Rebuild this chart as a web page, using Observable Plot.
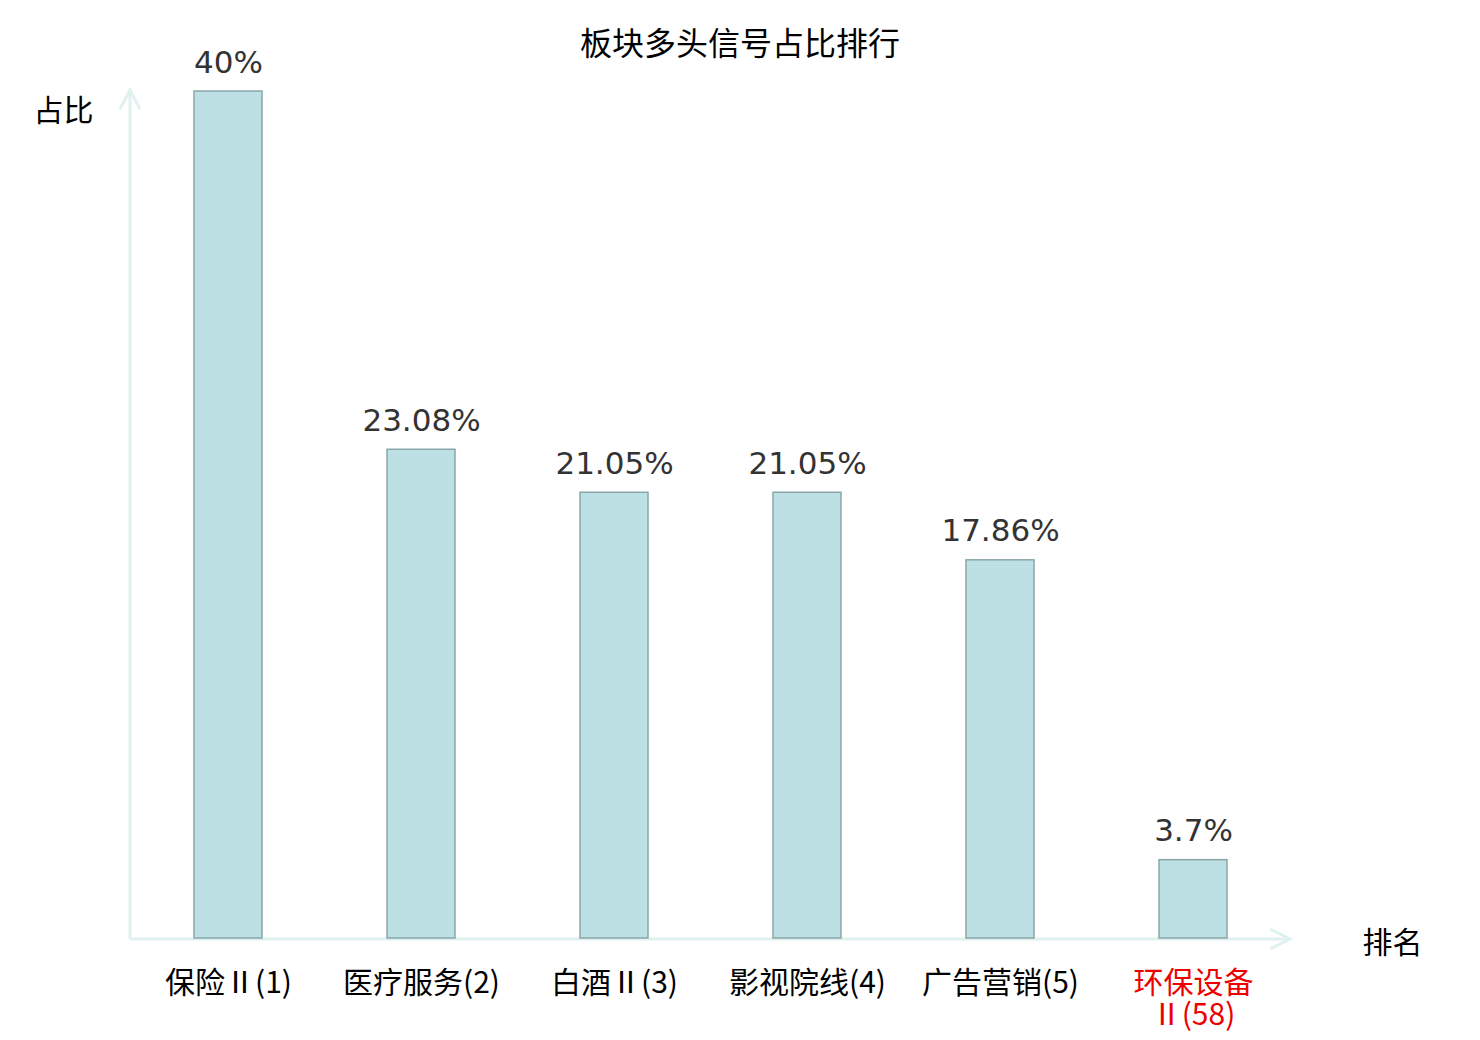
<!DOCTYPE html>
<html>
<head>
<meta charset="utf-8">
<script src="https://cdn.jsdelivr.net/npm/d3@7"></script>
<script src="https://cdn.jsdelivr.net/npm/@observablehq/plot@0.6"></script>
<style>
  html, body { margin: 0; padding: 0; background: #fff; }
  #wrap { position: relative; width: 1480px; height: 1040px; font-family: "DejaVu Sans", "Noto Sans CJK SC", sans-serif; }
  #title { position: absolute; top: 20px; left: 0; width: 1480px; text-align: center; font-size: 32px; color: #000; line-height: 42px; font-family: "Noto Sans CJK SC", "DejaVu Sans", sans-serif; }
</style>
</head>
<body>
<div id="wrap">
  <div id="chart"></div>
  <div id="title">板块多头信号占比排行</div>
</div>
<script>
const categories = ["保险Ⅱ(1)", "医疗服务(2)", "白酒Ⅱ(3)", "影视院线(4)", "广告营销(5)", "环保设备\nⅡ(58)"];
const values = [40, 23.08, 21.05, 21.05, 17.86, 3.7];
const valueLabels = ["40%", "23.08%", "21.05%", "21.05%", "17.86%", "3.7%"];
const labelColors = ["#000", "#000", "#000", "#000", "#000", "#ee0000"];

const data = categories.map((c, i) => ({label: c, value: values[i], text: valueLabels[i], color: labelColors[i]}));

const axisColor = "#dff2f0";

function axesMark(index, scales, vals, dim) {
  const g = d3.create("svg:g").attr("fill", "none").attr("stroke", axisColor).attr("stroke-width", 3);
  const x0 = dim.marginLeft, x1 = dim.width - dim.marginRight;
  const y0 = dim.height - dim.marginBottom + 1, y1 = dim.marginTop - 1;
  g.append("path").attr("d", `M${x0},${y0}L${x1},${y0}`);
  g.append("path").attr("d", `M${x1 - 20},${y0 - 10}L${x1},${y0}L${x1 - 20},${y0 + 10}`);
  g.append("path").attr("d", `M${x0},${y0}L${x0},${y1}`);
  g.append("path").attr("d", `M${x0 - 10},${y1 + 19}L${x0},${y1}L${x0 + 10},${y1 + 19}`);
  return g.node();
}

const font = `"DejaVu Sans", "Noto Sans CJK SC", sans-serif`;
const cjk = `"Noto Sans CJK SC", "DejaVu Sans", sans-serif`;

const chart = Plot.plot({
  width: 1480,
  height: 1040,
  marginLeft: 130,
  marginRight: 190,
  marginTop: 91,
  marginBottom: 102,
  style: {fontFamily: font, background: "#fff", overflow: "visible"},
  x: {type: "band", domain: categories, paddingInner: 0.648, paddingOuter: 0.324, axis: null},
  y: {domain: [0, 40], axis: null},
  marks: [
    axesMark,
    Plot.barY(data, {x: "label", y: "value", fill: "#bce0e3", stroke: "#89a6a8", strokeWidth: 1.5}),
    Plot.text(data, {x: "label", y: "value", text: "text", lineAnchor: "bottom", dy: -19, fontSize: 31, fill: "#333", fontFamily: font}),
    Plot.text(data, {x: "label", text: "label", frameAnchor: "bottom", lineAnchor: "top", dy: 31, fontSize: 30, lineHeight: 1.08, fill: "color", fontFamily: cjk}),
    Plot.text(["占比"], {text: d => d, frameAnchor: "top-left", textAnchor: "middle", dx: -67, dy: 8, fontSize: 30, fill: "#000", fontFamily: cjk}),
    Plot.text(["排名"], {text: d => d, frameAnchor: "bottom-right", textAnchor: "middle", dx: 102, dy: 14, fontSize: 30, fill: "#000", fontFamily: cjk})
  ]
});
document.getElementById("chart").appendChild(chart);
</script>
</body>
</html>
